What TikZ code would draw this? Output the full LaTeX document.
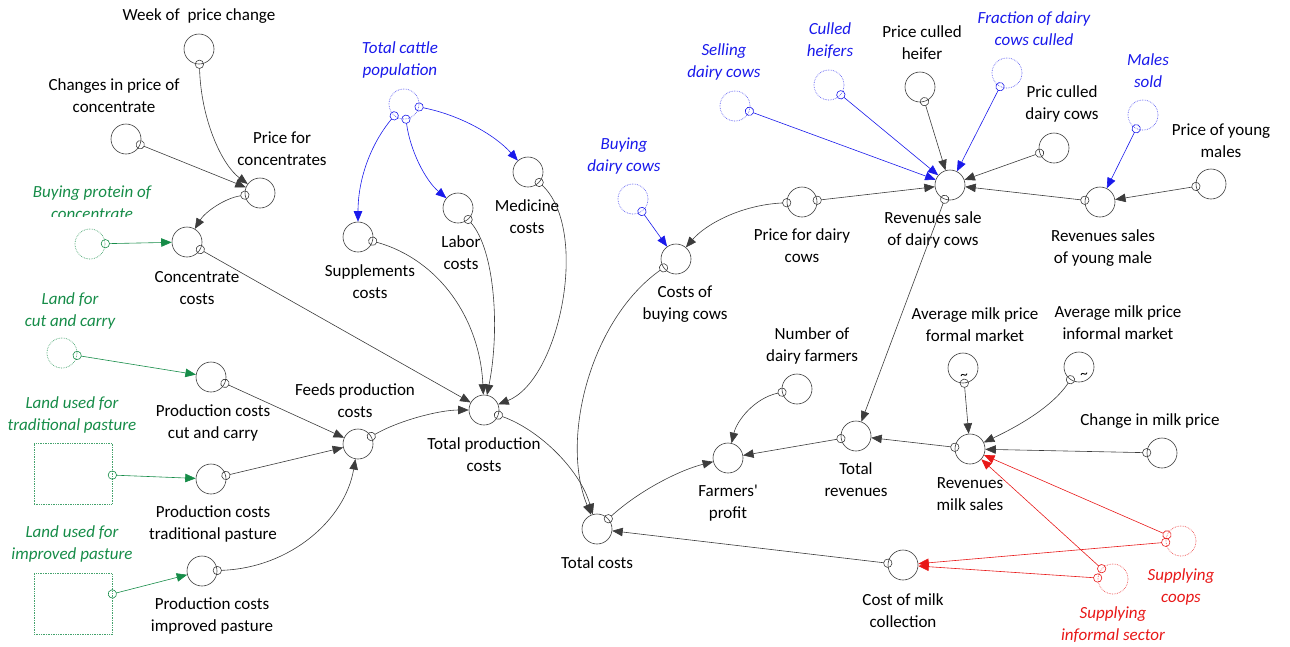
\documentclass[tikz,border=0pt]{standalone}
\usepackage{fontspec}
\setmainfont{Carlito}
\usetikzlibrary{arrows.meta}

\definecolor{linegray}{RGB}{60,60,60}
\definecolor{cblue}{RGB}{25,25,235}
\definecolor{cgreen}{RGB}{22,140,72}
\definecolor{cred}{RGB}{232,24,24}
\newcommand{\lblfont}{\fontsize{17}{22}\selectfont}
% straight apostrophe glyph, set directly so the TeX quote mapping leaves it alone
\newcommand{\straightquote}{\XeTeXglyph\XeTeXcharglyph"27\relax}

\tikzset{
  var/.style={circle, draw=linegray, line width=0.6pt, minimum size=30pt, inner sep=0pt},
  ghost/.style={circle, densely dotted, line width=0.7pt, minimum size=30pt, inner sep=0pt},
  landbox/.style={rectangle, draw=cgreen!80, densely dotted, line width=0.7pt, minimum width=78pt, minimum height=61pt, inner sep=0pt},
  lbl/.style={align=center, font=\lblfont, inner sep=0pt, text=black},
  ilbl/.style={lbl, font=\lblfont\itshape},
  link/.style={draw=linegray, line width=0.6pt, shorten <=-4.5pt,
    {Circle[open,length=9pt,width=9pt,line width=0.6pt]}-{Triangle[length=10.5pt,width=8.5pt]}},
  blink/.style={link, draw=cblue},
  glink/.style={link, draw=cgreen},
  rlink/.style={link, draw=cred},
  tilde/.style={font=\fontsize{15}{15}\selectfont, inner sep=0pt},
}

\begin{document}
\begin{tikzpicture}[x=1pt,y=-1pt]
\useasboundingbox (0,0) rectangle (1290,646);

% ---------- feed and production cost sector ----------
\node[var] (week) at (199,49) {};
\node[lbl] (week-l) at (199,16) {Week of \ price change};
\node[var] (chg) at (126,139) {};
\node[lbl] (chg-l) at (114,96) {Changes in price of\\concentrate};
\node[var] (pfc) at (260,193) {};
\node[lbl] (pfc-l) at (282,149) {Price for\\concentrates};
\node[ghost, draw=cgreen!80] (prot) at (90,244) {};
\begin{scope}
  \clip (0,180) rectangle (220,216.5);
  \node[ilbl, text=cgreen] (prot-l) at (92,203) {Buying protein of\\concentrate};
\end{scope}
\node[var] (conc) at (187,242) {};
\node[lbl] (conc-l) at (197,288) {Concentrate\\costs};

\node[ghost, draw=cgreen!80] (landcc) at (62,353) {};
\node[ilbl, text=cgreen] (landcc-l) at (70,311) {Land for\\cut and carry};
\node[var] (pcc) at (211,377) {};
\node[lbl] (pcc-l) at (213,423) {Production costs\\cut and carry};

\node[landbox] (landtr) at (73,473.5) {};
\node[ilbl, text=cgreen] (landtr-l) at (72,415) {Land used for\\traditional pasture};
\node[var] (ptr) at (211,479) {};
\node[lbl] (ptr-l) at (213,524) {Production costs\\traditional pasture};

\node[landbox] (landim) at (73,604) {};
\node[ilbl, text=cgreen] (landim-l) at (72,544) {Land used for\\improved pasture};
\node[var] (pim) at (202,571) {};
\node[lbl] (pim-l) at (212,616) {Production costs\\improved pasture};

\node[var] (feeds) at (358,444) {};
\node[lbl] (feeds-l) at (355,401) {Feeds production\\costs};
\node[var] (tpc) at (484,410) {};
\node[lbl] (tpc-l) at (484,455) {Total production\\costs};
\node[var] (tc) at (597,529) {};
\node[lbl] (tc-l) at (597,563) {Total costs};

\node[ghost, draw=cblue!70] (cattle) at (404,104) {};
\node[ilbl, text=cblue] (cattle-l) at (400,60) {Total cattle\\population};
\node[var] (supp) at (358,237) {};
\node[lbl] (supp-l) at (370,282) {Supplements\\costs};
\node[var] (labor) at (458,208) {};
\node[lbl] (labor-l) at (461,253) {Labor\\costs};
\node[var] (med) at (528,172) {};
\node[lbl] (med-l) at (527,217) {Medicine\\costs};

% ---------- herd sales sector ----------
\node[ghost, draw=cblue!70] (buy) at (633,199) {};
\node[ilbl, text=cblue] (buy-l) at (624,156) {Buying\\dairy cows};
\node[var] (cbuy) at (676,259) {};
\node[lbl] (cbuy-l) at (685,304) {Costs of\\buying cows};
\node[ghost, draw=cblue!70] (sell) at (735,106) {};
\node[ilbl, text=cblue] (sell-l) at (724,62) {Selling\\dairy cows};
\node[ghost, draw=cblue!70] (heif) at (829,85) {};
\node[ilbl, text=cblue] (heif-l) at (830,41) {Culled\\heifers};
\node[var] (pheif) at (920,87) {};
\node[lbl] (pheif-l) at (922,43) {Price culled\\heifer};
\node[var] (pdc) at (802,202) {};
\node[lbl] (pdc-l) at (802,246) {Price for dairy\\cows};
\node[var] (rsd) at (950,185) {};
\node[lbl] (rsd-l) at (933,230) {Revenues sale\\of dairy cows};
\node[ghost, draw=cblue!70] (frac) at (1007,73) {};
\node[ilbl, text=cblue] (frac-l) at (1034,29) {Fraction of dairy\\cows culled};
\node[var] (pcd) at (1054,148) {};
\node[lbl] (pcd-l) at (1062,104) {Pric culled\\dairy cows};
\node[ghost, draw=cblue!70] (males) at (1143,115) {};
\node[ilbl, text=cblue] (males-l) at (1148,71) {Males\\sold};
\node[var] (pym) at (1211,184) {};
\node[lbl] (pym-l) at (1221,141) {Price of young\\males};
\node[var] (rym) at (1100,202) {};
\node[lbl] (rym-l) at (1103,248) {Revenues sales\\of young male};

% ---------- milk and profit sector ----------
\node[var] (nfarm) at (797,389) {};
\node[lbl] (nfarm-l) at (812,346) {Number of\\dairy farmers};
\node[var] (profit) at (728,458) {};
\node[lbl] (profit-l) at (728,503) {Farmers\straightquote\\profit};
\node[var] (trev) at (856,436) {};
\node[lbl] (trev-l) at (856,480) {Total\\revenues};
\node[var] (rmilk) at (970,449) {};
\node[lbl] (rmilk-l) at (970,494) {Revenues\\milk sales};
\node[var] (pform) at (963,368) {};
\node[tilde] (pform-t) at (964,377) {\textasciitilde};
\node[lbl] (pform-l) at (975,325) {Average milk price\\formal market};
\node[var] (pinf) at (1079,367) {};
\node[tilde] (pinf-t) at (1084,376) {\textasciitilde};
\node[lbl] (pinf-l) at (1118,323) {Average milk price\\informal market};
\node[var] (cmp) at (1162,453) {};
\node[lbl] (cmp-l) at (1150,421) {Change in milk price};
\node[var] (cmc) at (903,565) {};
\node[lbl] (cmc-l) at (903,611) {Cost of milk\\collection};
\node[ghost, draw=cred!75] (coops) at (1181,541) {};
\node[ilbl, text=cred] (coops-l) at (1181,587) {Supplying\\coops};
\node[ghost, draw=cred!75] (infs) at (1113,579) {};
\node[ilbl, text=cred] (infs-l) at (1113,625) {Supplying\\informal sector};

% ---------- connectors ----------
\draw[link] (week) .. controls (201,120) and (222,165) .. (pfc);
\draw[link] (chg) -- (pfc);
\draw[link] (pfc) .. controls (225,198) and (205,212) .. (conc);
\draw[glink] (prot) -- (conc);
\draw[link] (conc) -- (tpc);

\draw[glink] (landcc) -- (pcc);
\draw[glink] (landtr) -- (ptr);
\draw[glink] (landim) -- (pim);
\draw[link] (pcc) -- (feeds);
\draw[link] (ptr) -- (feeds);
\draw[link] (pim) .. controls (290,568) and (345,520) .. (feeds);
\draw[link] (feeds) .. controls (400,420) and (440,410) .. (tpc);

\draw[blink] (cattle) .. controls (370,145) and (358,180) .. (supp);
\draw[blink] (cattle) .. controls (410,150) and (425,180) .. (labor);
\draw[blink] (cattle) .. controls (460,115) and (495,135) .. (med);
\draw[link] (supp) .. controls (440,260) and (480,320) .. (tpc);
\draw[link] (labor) .. controls (495,250) and (500,330) .. (tpc);
\draw[link] (med) .. controls (590,230) and (560,380) .. (tpc);
\draw[link] (tpc) .. controls (540,430) and (580,470) .. (tc);
\draw[link] (cbuy) .. controls (590,320) and (560,440) .. (tc);
\draw[link] (tc) .. controls (640,490) and (680,470) .. (profit);
\draw[link] (cmc) -- (tc);

\draw[blink] (buy) -- (cbuy);
\draw[link] (pdc) .. controls (740,205) and (705,225) .. (cbuy);
\draw[link] (pdc) -- (rsd);
\draw[blink] (sell) -- (rsd);
\draw[blink] (heif) -- (rsd);
\draw[link] (pheif) -- (rsd);
\draw[blink] (frac) -- (rsd);
\draw[link] (pcd) -- (rsd);
\draw[link] (rym) -- (rsd);
\draw[blink] (males) -- (rym);
\draw[link] (pym) -- (rym);
\draw[link] (rsd) -- (trev);

\draw[link] (nfarm) .. controls (755,398) and (737,420) .. (profit);
\draw[link] (trev) -- (profit);
\draw[link] (rmilk) -- (trev);
\draw[link] (pform) -- (rmilk);
\draw[link] (pinf) .. controls (1050,410) and (1010,430) .. (rmilk);
\draw[link] (cmp) -- (rmilk);
\draw[rlink] (coops) -- (rmilk);
\draw[rlink] (infs) -- (rmilk);
\draw[rlink] (coops) -- (cmc);
\draw[rlink] (infs) -- (cmc);
\end{tikzpicture}
\end{document}
